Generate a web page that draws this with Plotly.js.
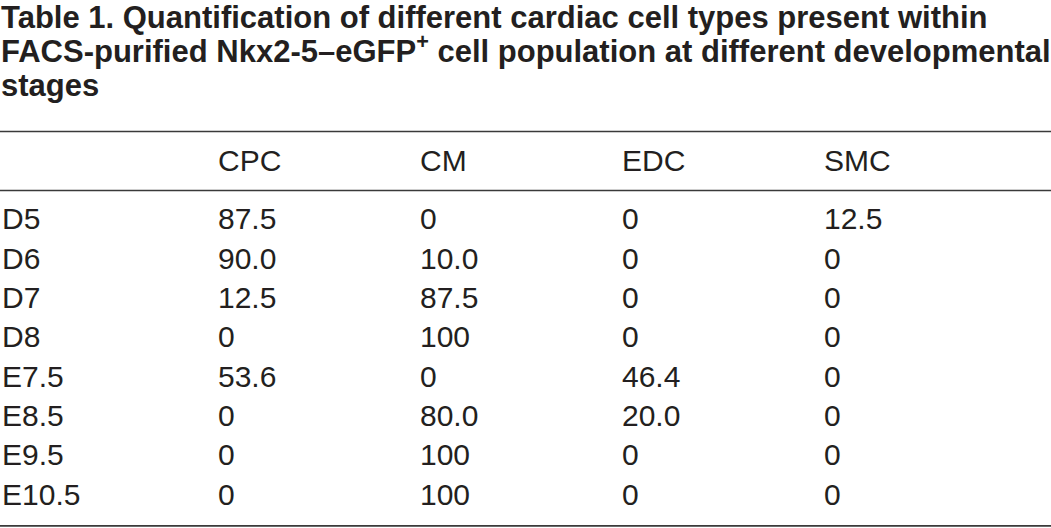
<!DOCTYPE html>
<html>
<head>
<meta charset="utf-8">
<script src="https://cdn.plot.ly/plotly-3.0.1.min.js"></script>
<style>
html,body{margin:0;padding:0;background:#fff;}
#chart{width:1051px;height:528px;}
</style>
</head>
<body>
<div id="chart"></div>
<script>
// ---- data ----
const stages = ["D5", "D6", "D7", "D8", "E7.5", "E8.5", "E9.5", "E10.5"];
const cellTypes = ["CPC", "CM", "EDC", "SMC"];
const CPC = ["87.5", "90.0", "12.5", "0", "53.6", "0", "0", "0"];
const CM  = ["0", "10.0", "87.5", "100", "0", "80.0", "100", "100"];
const EDC = ["0", "0", "0", "0", "46.4", "20.0", "0", "0"];
const SMC = ["12.5", "0", "0", "0", "0", "0", "0", "0"];
const titleLines = [
  "Table 1. Quantification of different cardiac cell types present within",
  "FACS-purified Nkx2-5–eGFP<sup>+</sup> cell population at different developmental",
  "stages"
];

// ---- layout constants (positions/styles) ----
const HEADER_ROW = -1.48;
const LABEL_COL = -0.069;
const RULES = [-2.302, -0.801, 7.734];
const TITLE_BOTTOM_PX = [36, 70.5, 104];
const TXT = "#231f20";
const FONT = "Liberation Sans, Arial, sans-serif";
const FS = 30;
const TITLE_FS = 31;
const H = 528;

const columns = [CPC, CM, EDC, SMC];
const rowIdx = stages.map((s, i) => i);
const traces = [];

function textTrace(x, y, text) {
  return {
    type: "scatter", mode: "text",
    x: x, y: y, text: text,
    textposition: "middle right",
    textfont: {family: FONT, size: FS, color: TXT},
    hoverinfo: "skip", showlegend: false, cliponaxis: false
  };
}

// header row
traces.push(textTrace(cellTypes.map((c, j) => j + 1), cellTypes.map(() => HEADER_ROW), cellTypes));
// row labels
traces.push(textTrace(stages.map(() => LABEL_COL), rowIdx, stages));
// value columns
columns.forEach((col, j) => {
  traces.push(textTrace(col.map(() => j + 1), rowIdx, col));
});

const shapes = RULES.map(r => ({
  type: "line", xref: "paper", yref: "y",
  x0: 0, x1: 1, y0: r, y1: r,
  line: {color: "#3a3a3a", width: 1.6}
}));

const annotations = titleLines.map((t, k) => ({
  text: "<b>" + t + "</b>",
  xref: "paper", yref: "paper",
  x: 0, xanchor: "left",
  y: 1 - TITLE_BOTTOM_PX[k] / H, yanchor: "bottom",
  align: "left", showarrow: false, borderpad: 0,
  font: {family: FONT, size: TITLE_FS, color: TXT}
}));

const layout = {
  width: 1051, height: H,
  margin: {l: 0, r: 0, t: 0, b: 0, pad: 0},
  paper_bgcolor: "#fff", plot_bgcolor: "#fff",
  xaxis: {range: [-0.0792, 5.1238], visible: false, fixedrange: true},
  yaxis: {range: [7.787, -5.649], visible: false, fixedrange: true},
  shapes: shapes,
  annotations: annotations,
  showlegend: false
};

Plotly.newPlot("chart", traces, layout, {staticPlot: true, displayModeBar: false});
</script>
</body>
</html>
